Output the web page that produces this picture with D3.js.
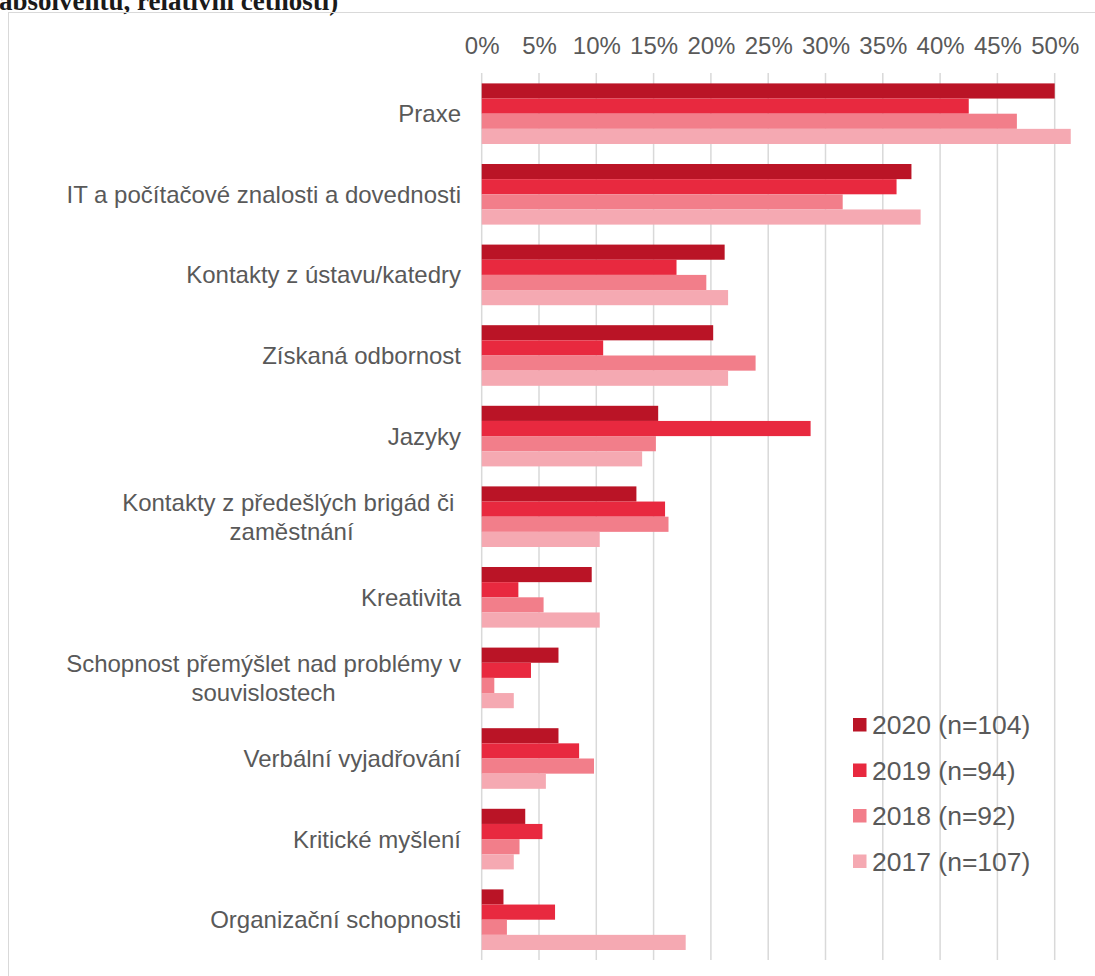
<!DOCTYPE html>
<html>
<head>
<meta charset="utf-8">
<script src="https://cdn.jsdelivr.net/npm/d3@7"></script>
<style>
  body { margin: 0; background: #fff; }
  svg { display: block; }
</style>
</head>
<body>
<svg width="1095" height="976"></svg>
<script>
const [width, height] = [1095, 976];

// categories, top to bottom (multi-line labels split with \n)
const categories = [
  'Praxe',
  'IT a počítačové znalosti a dovednosti',
  'Kontakty z ústavu/katedry',
  'Získaná odbornost',
  'Jazyky',
  'Kontakty z předešlých brigád či \nzaměstnání',
  'Kreativita',
  'Schopnost přemýšlet nad problémy v\nsouvislostech',
  'Verbální vyjadřování',
  'Kritické myšlení',
  'Organizační schopnosti'
];

const years = ['2020 (n=104)', '2019 (n=94)', '2018 (n=92)', '2017 (n=107)'];

// percentages per year, same order as categories
const values2020 = [50.0, 37.5, 21.2, 20.2, 15.4, 13.5, 9.6, 6.7, 6.7, 3.8, 1.9];
const values2019 = [42.5, 36.2, 17.0, 10.6, 28.7, 16.0, 3.2, 4.3, 8.5, 5.3, 6.4];
const values2018 = [46.7, 31.5, 19.6, 23.9, 15.2, 16.3, 5.4, 1.1, 9.8, 3.3, 2.2];
const values2017 = [51.4, 38.3, 21.5, 21.5, 14.0, 10.3, 10.3, 2.8, 5.6, 2.8, 17.8];

const tickValues = [0, 5, 10, 15, 20, 25, 30, 35, 40, 45, 50];

const colors = ['#BA1426', '#E8293F', '#F27E8A', '#F5A9B2'];
const series = [values2020, values2019, values2018, values2017];

const sans = '"Liberation Sans", Arial, sans-serif';
const svg = d3.select('svg');

// title, cut off at top like the reference
svg.append('text')
  .attr('x', -1)
  .attr('y', 10)
  .attr('font-family', '"Liberation Serif", serif')
  .attr('font-weight', 'bold')
  .attr('font-size', 27)
  .attr('fill', '#1a1a1a')
  .text('absolventů, relativní četnosti)');

// chart frame
svg.append('rect')
  .attr('x', 8.5)
  .attr('y', 12.5)
  .attr('width', 1200)
  .attr('height', 1200)
  .attr('fill', 'none')
  .attr('stroke', '#d9d9d9')
  .attr('stroke-width', 1);

const x = d3.scaleLinear()
  .domain([0, 50])
  .range([481.7, 1054.7]);

const y = d3.scaleBand()
  .domain(categories)
  .range([73.4, 960])
  .paddingInner(0.248)
  .paddingOuter(0.124);

const yInner = d3.scaleBand()
  .domain(years)
  .range([0, y.bandwidth()]);

// gridlines
svg.append('g')
  .selectAll('line')
  .data(tickValues)
  .join('line')
  .attr('x1', d => x(d))
  .attr('x2', d => x(d))
  .attr('y1', 73)
  .attr('y2', 960)
  .attr('stroke', '#d9d9d9')
  .attr('stroke-width', 1.5);

// top axis labels
const xAxis = d3.axisTop(x)
  .tickValues(tickValues)
  .tickSize(0)
  .tickPadding(0)
  .tickFormat(d => d + '%');

svg.append('g')
  .attr('transform', 'translate(0, 53.5)')
  .call(xAxis)
  .call(g => g.select('.domain').remove())
  .call(g => g.selectAll('text')
    .attr('font-family', sans)
    .attr('font-size', 24)
    .attr('fill', '#595959'));

// bars
const groups = svg.append('g')
  .selectAll('g')
  .data(categories)
  .join('g')
  .attr('transform', d => `translate(0, ${y(d)})`);

groups.selectAll('rect')
  .data((d, i) => years.map((yr, j) => ({ year: yr, value: series[j][i], color: colors[j] })))
  .join('rect')
  .attr('x', x(0))
  .attr('y', d => yInner(d.year))
  .attr('width', d => x(d.value) - x(0))
  .attr('height', yInner.bandwidth())
  .attr('fill', d => d.color);

// category labels
const labelRight = 461;
const lineHeight = 29;
const labels = svg.append('g')
  .attr('font-family', sans)
  .attr('font-size', 24)
  .attr('fill', '#595959');

categories.forEach(cat => {
  const lines = cat.split('\n');
  const cy = y(cat) + y.bandwidth() / 2;
  const t = labels.append('text');
  if (lines.length === 1) {
    t.attr('x', labelRight)
      .attr('y', cy)
      .attr('dy', '0.35em')
      .attr('text-anchor', 'end')
      .text(cat);
  } else {
    // multi-line: lines centred on each other, block right aligned
    const spans = lines.map((ln, k) => t.append('tspan')
      .attr('y', cy + (k - (lines.length - 1) / 2) * lineHeight)
      .attr('dy', '0.35em')
      .attr('text-anchor', 'middle')
      .style('white-space', 'pre')
      .text(ln));
    const maxW = d3.max(spans, s => s.node().getComputedTextLength());
    spans.forEach(s => s.attr('x', labelRight - maxW / 2));
  }
});

// legend
const legend = svg.append('g')
  .attr('transform', 'translate(853, 718)');

legend.selectAll('rect')
  .data(years)
  .join('rect')
  .attr('x', 0)
  .attr('y', (d, i) => i * 45.5)
  .attr('width', 13.5)
  .attr('height', 13.5)
  .attr('fill', (d, i) => colors[i]);

legend.selectAll('text')
  .data(years)
  .join('text')
  .attr('x', 19)
  .attr('y', (d, i) => i * 45.5 + 6.8)
  .attr('dy', '0.36em')
  .attr('font-family', sans)
  .attr('font-size', 26.5)
  .attr('fill', '#595959')
  .text(d => d);
</script>
</body>
</html>
